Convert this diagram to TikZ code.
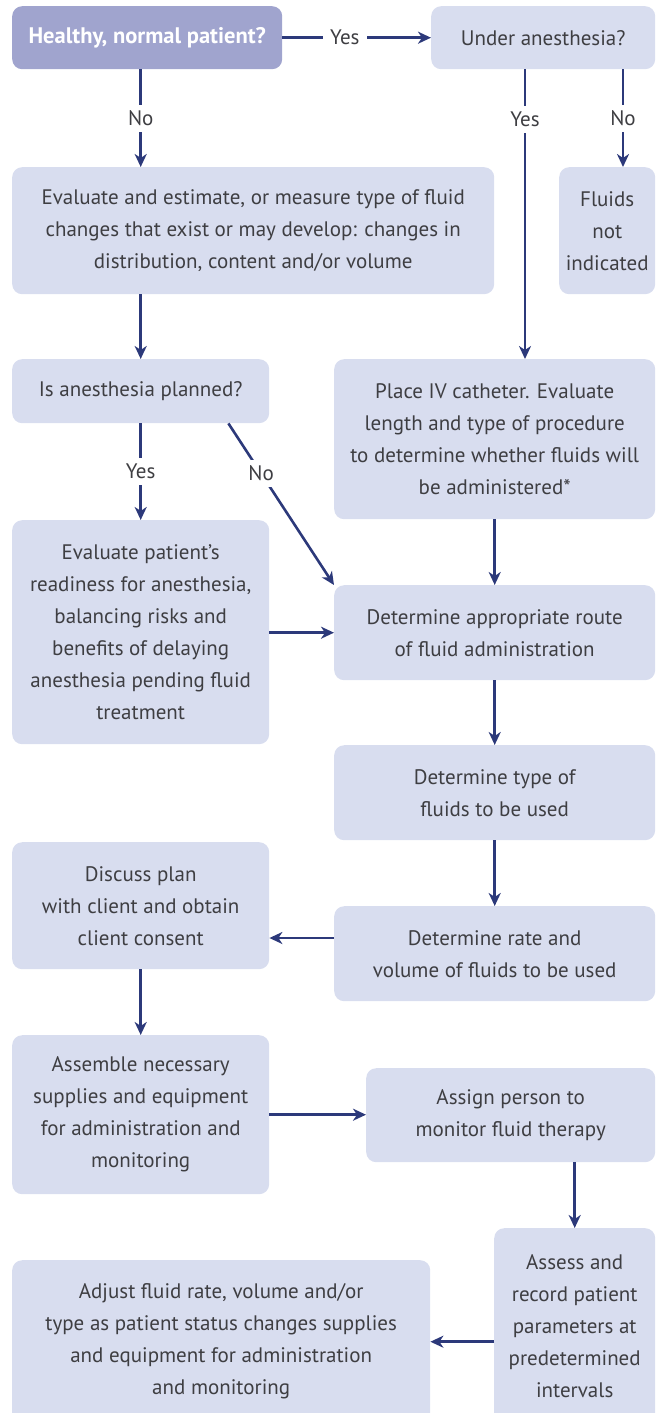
\documentclass[tikz,border=0pt]{standalone}
\usepackage{fontspec}
\setmainfont{PT Sans}
\usetikzlibrary{calc,positioning,arrows.meta}
\definecolor{boxLight}{RGB}{216,221,239}
\definecolor{boxDark}{RGB}{160,164,206}
\definecolor{flowBlue}{RGB}{44,57,122}
\definecolor{textGrey}{RGB}{62,62,66}

\tikzset{
  box/.style={anchor=north west, rounded corners=10pt, fill=boxLight, draw=none,
    align=center, inner sep=0pt, text=textGrey,
    font=\fontsize{21}{32}\selectfont},
  darkbox/.style={box, fill=boxDark, text=white,
    font=\fontsize{22.5}{32}\selectfont\bfseries},
  flow/.style={draw=flowBlue, line width=2.6pt,
    -{Stealth[length=13pt,width=12pt,inset=4pt]}},
  lbl/.style={fill=white, text=textGrey, inner xsep=7pt, inner ysep=6pt,
    font=\fontsize{21}{24}\selectfont}
}

\begin{document}
\begin{tikzpicture}[x=1pt,y=-1pt]
\useasboundingbox (0,0) rectangle (658,1413);

% Top row
\node[darkbox, minimum width=270pt, minimum height=63pt] (healthy) at (12,6)
  {Healthy, normal patient?};
\node[box, minimum width=224pt, minimum height=63pt] (underanes) at (431,6)
  {Under anesthesia?};

% Second row
\node[box, minimum width=482pt, minimum height=127pt] (evaluate) at (12,167)
  {Evaluate and estimate, or measure type of fluid\\
   changes that exist or may develop: changes in\\
   distribution, content and/or volume};
\node[box, minimum width=96pt, minimum height=127pt] (fluidsno) at (559,167)
  {Fluids\\not\\indicated};

% Third row
\node[box, minimum width=257pt, minimum height=64pt] (planned) at (12,359)
  {Is anesthesia planned?};
\node[box, minimum width=321pt, minimum height=160pt] (placeiv) at (334,359)
  {Place IV catheter. Evaluate\\length and type of procedure\\
   to determine whether fluids will\\be administered*};

% Readiness and route
\node[box, minimum width=257pt, minimum height=224pt] (readiness) at (12,520)
  {Evaluate patient’s\\readiness for anesthesia,\\balancing risks and\\
   benefits of delaying\\anesthesia pending fluid\\treatment};
\node[box, minimum width=321pt, minimum height=95pt] (route) at (334,585)
  {Determine appropriate route\\of fluid administration};

% Fluid type, rate, consent
\node[box, minimum width=321pt, minimum height=95pt] (fluidtype) at (334,745)
  {Determine type of\\fluids to be used};
\node[box, minimum width=257pt, minimum height=127pt] (discuss) at (12,842)
  {Discuss plan\\with client and obtain\\client consent};
\node[box, minimum width=321pt, minimum height=95pt] (rate) at (334,906)
  {Determine rate and\\volume of fluids to be used};

% Supplies and monitoring
\node[box, minimum width=257pt, minimum height=159pt] (assemble) at (12,1035)
  {Assemble necessary\\supplies and equipment\\for administration and\\monitoring};
\node[box, minimum width=289pt, minimum height=94pt] (assign) at (366,1068)
  {Assign person to\\monitor fluid therapy};
\node[box, minimum width=161pt, minimum height=195pt] (assess) at (494,1228)
  {Assess and\\record patient\\parameters at\\predetermined\\intervals};
\node[box, minimum width=418pt, minimum height=163pt] (adjust) at (12,1260)
  {Adjust fluid rate, volume and/or\\type as patient status changes supplies\\
   and equipment for administration\\and monitoring};

% Columns and rows that are off the box centres
\coordinate (yescol) at (525,0);
\coordinate (nocol) at (623,0);
\coordinate (consentrow) at (0,938);

% Connectors
\draw[flow] (healthy.east) -- node[lbl, pos=.42] {Yes} (underanes.west);
\draw[flow] (healthy.south -| planned) -- node[lbl] {No} (evaluate.north -| planned);
\draw[flow] (underanes.south -| yescol) -- node[lbl, pos=.172] {Yes} (placeiv.north -| yescol);
\draw[flow] (underanes.south -| nocol) -- node[lbl] {No} (fluidsno.north -| nocol);
\draw[flow] (evaluate.south -| planned) -- (planned.north);
\draw[flow] (planned.south) -- node[lbl] {Yes} (readiness.north);
\draw[flow] (planned.south east) ++(-41,0) -- node[lbl, pos=.31] {No} (route.north west);
\draw[flow] (placeiv.south) -- (route.north);
\draw[flow] (readiness.east |- route) -- (route.west);
\draw[flow] (route.south) -- (fluidtype.north);
\draw[flow] (fluidtype.south) -- (rate.north);
\draw[flow] (rate.west |- consentrow) -- (discuss.east |- consentrow);
\draw[flow] (discuss.south) -- (assemble.north);
\draw[flow] (assemble.east) -- (assign.west |- assemble.east);
\draw[flow] (assign.south -| assess) -- (assess.north);
\draw[flow] (assess.west |- adjust.east) -- (adjust.east);

\end{tikzpicture}
\end{document}
